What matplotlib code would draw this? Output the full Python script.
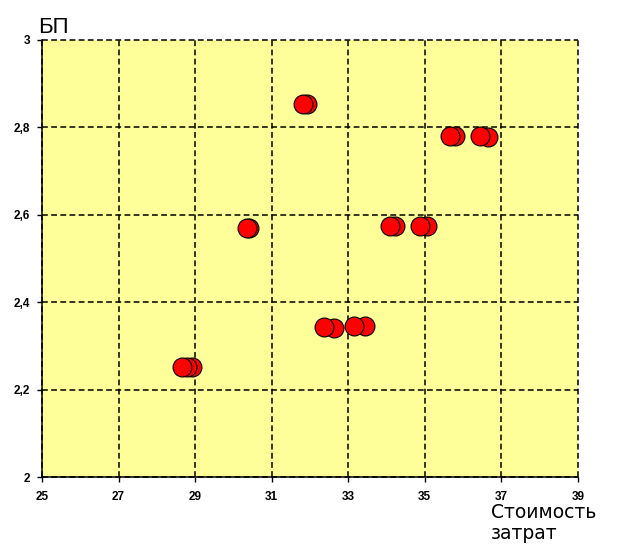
import numpy as np
import matplotlib.pyplot as plt
from matplotlib.ticker import FuncFormatter

# Точки: передний слой и слегка сдвинутые точки позади
front_x = [31.82, 30.35, 28.66, 32.38, 33.16, 34.08, 34.88, 35.66, 36.44]
front_y = [2.854, 2.569, 2.253, 2.344, 2.347, 2.574, 2.574, 2.780, 2.780]
back_x = [31.92, 30.41, 28.92, 28.79, 32.63, 33.45, 34.22, 35.05, 35.80, 36.66]
back_y = [2.854, 2.569, 2.253, 2.253, 2.341, 2.347, 2.574, 2.574, 2.779, 2.777]

x_ticks = [25, 27, 29, 31, 33, 35, 37, 39]
y_ticks = [2, 2.2, 2.4, 2.6, 2.8, 3]

fig = plt.figure(figsize=(6.18, 5.46), dpi=100)
ax = fig.add_axes([0.068, 0.1255, 0.867, 0.802])
ax.set_facecolor('#FFFF99')

ax.set_xlim(25, 39)
ax.set_ylim(2, 3)
ax.set_xticks(x_ticks)
ax.set_yticks(y_ticks)
ax.yaxis.set_major_formatter(FuncFormatter(lambda v, p: f"{v:g}".replace('.', ',')))

ax.grid(True, color='black', linestyle=(0, (3.8, 2.2)), linewidth=1.1)
for line in ax.get_xgridlines() + ax.get_ygridlines():
    line.set_clip_on(False)
ax.set_axisbelow(True)

for side in ['top', 'right']:
    ax.spines[side].set_visible(False)
for side in ['left', 'bottom']:
    ax.spines[side].set_linewidth(1.1)
    ax.spines[side].set_zorder(3)

ax.tick_params(axis='both', direction='out', length=3.5, width=1, labelsize=8.5)
ax.tick_params(axis='x', pad=6)
ax.tick_params(axis='y', pad=5)
for lab in ax.get_xticklabels() + ax.get_yticklabels():
    lab.set_fontweight('bold')
    lab.set_family('Liberation Sans')

ax.scatter(back_x, back_y, s=185, color='#FF0000', edgecolors='black',
           linewidths=0.8, zorder=4, clip_on=False)
ax.scatter(front_x, front_y, s=185, color='#FF0000', edgecolors='black',
           linewidths=0.8, zorder=5, clip_on=False)

fig.text(38 / 618, 1 - 33 / 546, 'БП', fontsize=16, family='Liberation Sans',
         ha='left', va='baseline')
# подпись оси X в две строки, базовая линия нижней строки
fig.text(491 / 618, 1 - 539 / 546, 'Стоимость\nзатрат', fontsize=13.5,
         family='DejaVu Sans', ha='left', va='baseline', linespacing=1.15,
         multialignment='left')

fig.savefig('out.png', dpi=100)
